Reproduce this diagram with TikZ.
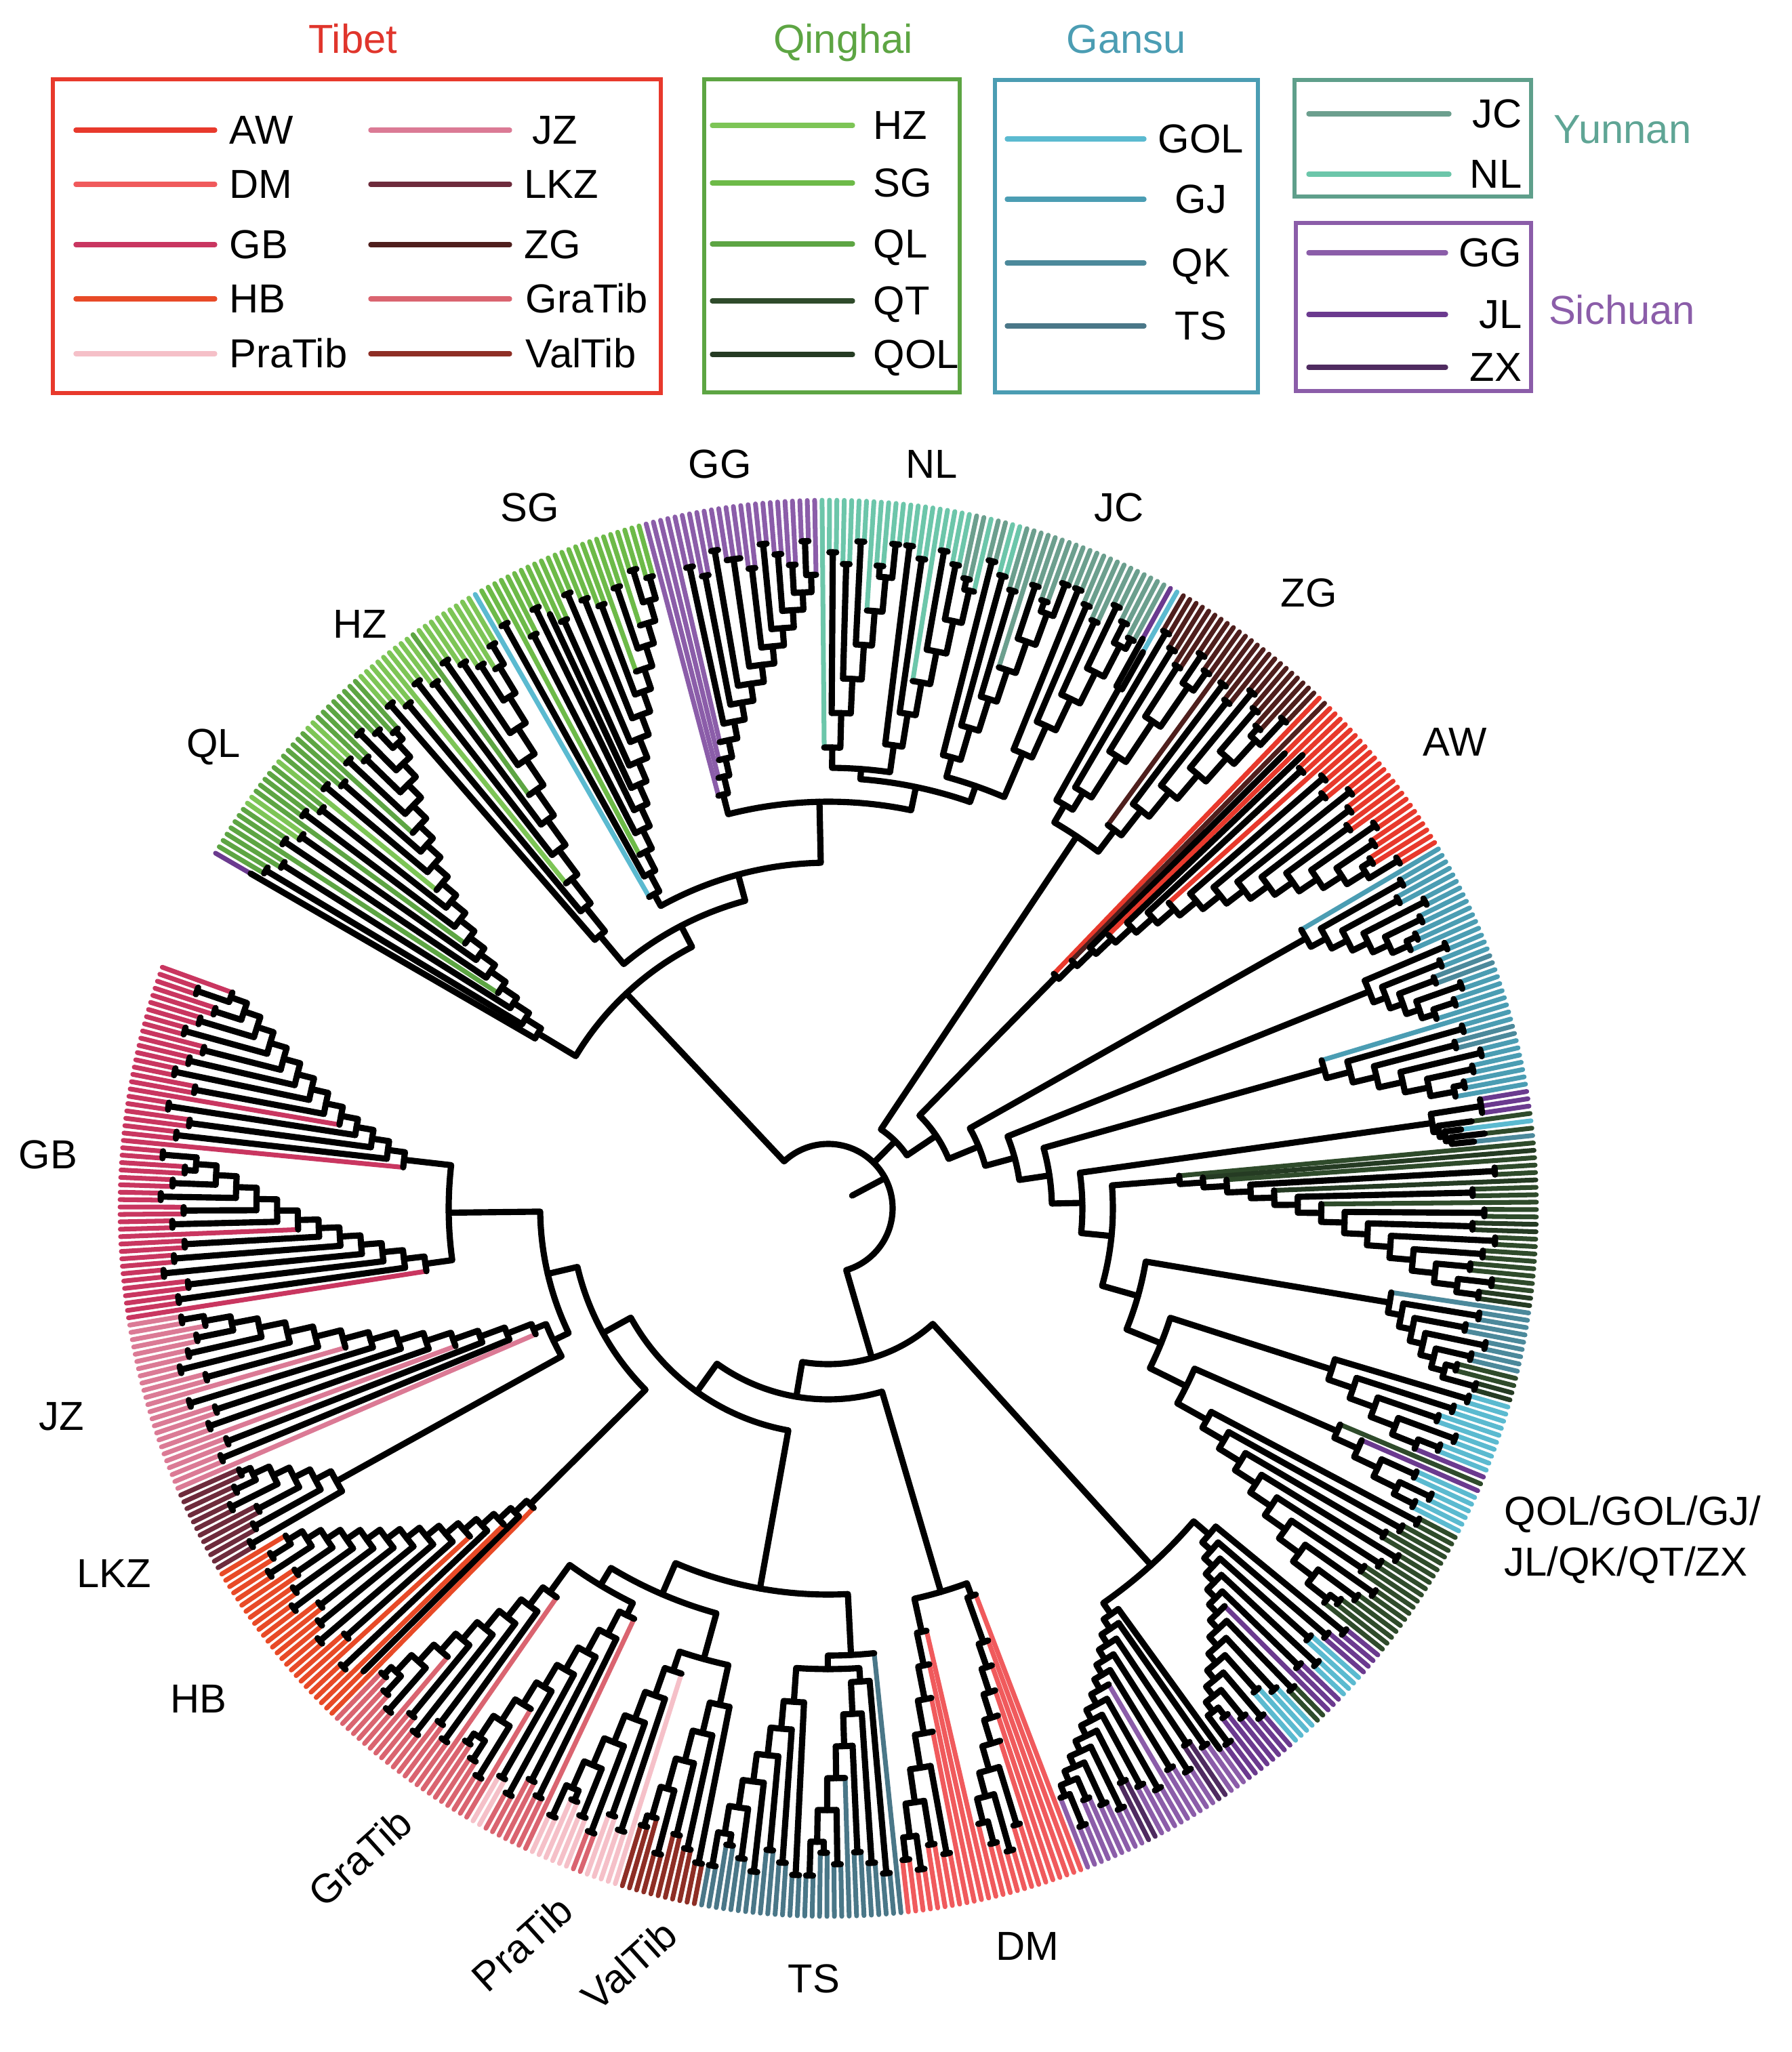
\documentclass[tikz,border=0pt]{standalone}
\usepackage{fontspec}
\setmainfont{Liberation Sans}
\definecolor{AW}{HTML}{E8392C}
\definecolor{DM}{HTML}{F05A5C}
\definecolor{GB}{HTML}{C93660}
\definecolor{HB}{HTML}{E84A27}
\definecolor{PraTib}{HTML}{F5C0C8}
\definecolor{JZ}{HTML}{DB7A95}
\definecolor{LKZ}{HTML}{6E2B3C}
\definecolor{ZG}{HTML}{4F1F1D}
\definecolor{GraTib}{HTML}{DA6470}
\definecolor{ValTib}{HTML}{8E2E25}
\definecolor{HZ}{HTML}{7DC556}
\definecolor{SG}{HTML}{6DBA48}
\definecolor{QL}{HTML}{5DA543}
\definecolor{QT}{HTML}{2F4B2B}
\definecolor{QOL}{HTML}{253B23}
\definecolor{GOL}{HTML}{5BBAD0}
\definecolor{GJ}{HTML}{4B9DB3}
\definecolor{QK}{HTML}{4C899B}
\definecolor{TS}{HTML}{4A7788}
\definecolor{JC}{HTML}{6C9F8E}
\definecolor{NL}{HTML}{6CC6AA}
\definecolor{GG}{HTML}{8B5DA9}
\definecolor{JL}{HTML}{6B3A8F}
\definecolor{ZX}{HTML}{4F2B60}
\definecolor{tibT}{HTML}{E0352C}
\definecolor{qinT}{HTML}{5DA543}
\definecolor{ganT}{HTML}{4B9DB3}
\definecolor{yunT}{HTML}{5FA595}
\definecolor{sicT}{HTML}{8B5DA9}
\definecolor{yunB}{HTML}{5F9F8B}
\tikzset{
  blk/.style={line width=2.6pt, black, line cap=round, line join=round},
  leaf/.style={line width=2.0pt, line cap=round},
  lg/.style={line width=2.1pt, line cap=round},
  lab/.style={font=\fontsize{17}{20}\selectfont, inner sep=0pt},
  frame/.style={line width=1.5pt},
}
\def\AZ{149.9}\def\DS{0.6}\def\RT{10.45}
% ladder: #1 name, #2 first leaf index, #3 groups size/colour, #4 root radius, #5 group radius, #6 default colour
\newcommand\ladder[6]{%
  \colorlet{d}{#6}%
  \xdef\LG{0}\xdef\LI{#2}%
  \foreach \gs/\gc in {#3}{%
    \pgfmathtruncatemacro\gn{max(\gs,1)}%
    \pgfmathsetmacro\af{\AZ-\DS*\LI}%
    \pgfmathsetmacro\al{\AZ-\DS*(\LI+\gn-1)}%
    \pgfmathsetmacro\am{(\af+\al)/2}%
    \expandafter\xdef\csname GA\LG\endcsname{\am}%
    \expandafter\xdef\csname GF\LG\endcsname{\af}%
    \expandafter\xdef\csname GL\LG\endcsname{\al}%
    \expandafter\xdef\csname GS\LG\endcsname{\gs}%
    \expandafter\xdef\csname GN\LG\endcsname{\gn}%
    \expandafter\xdef\csname GC\LG\endcsname{\gc}%
    \pgfmathtruncatemacro\tmpn{\LI+\gn}\xdef\LI{\tmpn}%
    \pgfmathtruncatemacro\tmpn{\LG+1}\xdef\LG{\tmpn}%
  }%
  \pgfmathtruncatemacro\Gm{\LG-2}%
  \pgfmathtruncatemacro\Glast{\LG-1}%
  \pgfmathtruncatemacro\Dd{max(\LG-2,1)}%
  \pgfmathsetmacro\rmx{#5-0.5}%
  \foreach \kq in {0,...,\Glast}{%
    \edef\Lgs{\csname GS\kq\endcsname}%
    \edef\Lgn{\csname GN\kq\endcsname}%
    \edef\Lgf{\csname GF\kq\endcsname}%
    \edef\Lgl{\csname GL\kq\endcsname}%
    \edef\Lga{\csname GA\kq\endcsname}%
    \edef\Lgc{\csname GC\kq\endcsname}%
    \ifnum\LG=1\relax
      \def\Lar{#4}\def\Lgr{#4}%
    \else
      \pgfmathtruncatemacro\kk{min(\kq,\Gm)}%
      \pgfmathsetmacro\Lar{#4+(\rmx-#4)*\kk/\Dd}%
      \pgfmathsetmacro\Lgr{#5-0.17*mod(\kq,3)}%
    \fi
    \ifnum\Lgs=1\relax \let\Lls\Lar \else \let\Lls\Lgr \fi
    \foreach \jq in {1,...,\Lgn}{%
      \pgfmathsetmacro\Lth{\Lgf-\DS*(\jq-1)}%
      \draw[leaf,color=\Lgc] (\Lth:\Lls) -- (\Lth:\RT);
    }%
    \ifnum\Lgs=1\relax\else
      \draw[blk] (\Lga:\Lar) -- (\Lga:\Lgr);
      \ifnum\Lgn>1\relax
        \draw[blk] (\Lgf:\Lgr) arc[start angle=\Lgf, end angle=\Lgl, radius=\Lgr];
      \fi
    \fi
  }%
  \ifnum\LG>1\relax
    \xdef\Bb{\csname GA\Glast\endcsname}%
    \foreach \iq in {0,...,\Gm}{%
      \pgfmathtruncatemacro\kq{\Gm-\iq}%
      \pgfmathtruncatemacro\kn{\kq+1}%
      \pgfmathsetmacro\rk{#4+(\rmx-#4)*\kq/\Dd}%
      \edef\ak{\csname GA\kq\endcsname}%
      \ifnum\kn<\Glast\relax
        \pgfmathsetmacro\rkn{#4+(\rmx-#4)*\kn/\Dd}%
        \draw[blk] (\Bb:\rkn) -- (\Bb:\rk) arc[start angle=\Bb, end angle=\ak, radius=\rk];
      \else
        \draw[blk] (\Bb:\rk) arc[start angle=\Bb, end angle=\ak, radius=\rk];
      \fi
      \pgfmathsetmacro\bn{(\ak+\Bb)/2}%
      \xdef\Bb{\bn}%
    }%
    \expandafter\xdef\csname nd:#1:A\endcsname{\Bb}%
  \else
    \expandafter\xdef\csname nd:#1:A\endcsname{\csname GA0\endcsname}%
  \fi
  \expandafter\xdef\csname nd:#1:R\endcsname{#4}%
}
% join: #1 name, #2 #3 children, #4 radius
\newcommand\jn[4]{%
  \edef\ja{\csname nd:#2:A\endcsname}\edef\jb{\csname nd:#3:A\endcsname}%
  \edef\jra{\csname nd:#2:R\endcsname}\edef\jrb{\csname nd:#3:R\endcsname}%
  \draw[blk] (\ja:\jra) -- (\ja:#4) arc[start angle=\ja, end angle=\jb, radius=#4] -- (\jb:\jrb);
  \pgfmathsetmacro\jm{(\ja+\jb)/2}%
  \expandafter\xdef\csname nd:#1:A\endcsname{\jm}%
  \expandafter\xdef\csname nd:#1:R\endcsname{#4}%
}
\begin{document}
\begin{tikzpicture}
\useasboundingbox (-12.22,-12.45) rectangle (14.21,17.83);
\fill[white] (-12.22,-12.45) rectangle (14.21,17.83);

% ---------- upper-left clade ----------
\ladder{QL}{0}{0/JL,2/d,2/d,1/d,2/d,2/HZ,1/d,2/d,2/d,1/HZ,2/d,2/d,1/d,2/HZ,2/d,2/d,2/d,2/d}{5.0}{9.85}{QL}
\ladder{HZ}{31}{2/d,2/d,1/d,2/d,2/d,1/QL,2/d,2/d,2/d,1/d,2/d}{5.25}{9.85}{HZ}
\ladder{BL}{50}{1/d}{5.3}{9.8}{GOL}
\ladder{SG}{51}{2/d,1/d,2/d,2/d,0/d,2/d,2/d,2/d,2/d,1/d,2/d,1/d,2/d,2/d}{5.6}{9.85}{SG}
\ladder{GG}{75}{1/d,1/d,1/d,1/d,2/d,2/d,2/d,3/d,2/d,2/d,2/d,2/d,2/d,1/d}{6.3}{9.85}{GG}
\ladder{NLa}{99}{1/d,2/d,2/d,2/d,1/d,2/d,2/d}{6.8}{9.85}{NL}
\ladder{NLb}{111}{2/d,2/d,1/d,2/d,2/d,2/JC,1/d}{6.9}{9.85}{NL}
\ladder{JCa}{123}{2/d,2/NL,2/d,1/d,2/d,2/d,2/d}{6.9}{9.85}{JC}
\ladder{JCb}{136}{2/d,2/d,2/d,2/d,2/d,2/d}{7.3}{9.85}{JC}
\jn{NLn}{NLa}{NLb}{6.5}
\jn{JCn}{JCa}{JCb}{6.6}
\jn{NJ}{NLn}{JCn}{6.35}
\jn{GN}{GG}{NJ}{6.0}
\jn{SGn}{BL}{SG}{5.3}
\jn{X}{SGn}{GN}{5.1}
\jn{UL1}{HZ}{X}{4.7}
\jn{UL0}{QL}{UL1}{4.35}

% ---------- upper-right clade ----------
\ladder{PB}{148}{0/JL,0/GOL}{8.8}{9.6}{JL}
\ladder{ZGa1}{150}{2/d,2/d,2/d,2/d,2/d}{7.2}{9.85}{ZG}
\ladder{ZGb}{160}{1/d,2/d,2/d,2/d,2/d,2/d,2/d}{7.0}{9.85}{ZG}
\jn{ZGa}{PB}{ZGa1}{6.9}
\jn{ZGc}{ZGa}{ZGb}{6.6}
\ladder{AW}{173}{1/d,1/ZG,0/d,1/d,0/d,2/d,1/d,2/d,2/d,2/d,2/d,2/d,2/d,2/d,2/d,2/d}{4.8}{9.85}{AW}
\ladder{GJa}{199}{1/d,2/d,2/d,2/d,2/d,2/d,1/d}{8.1}{9.9}{GJ}
\ladder{GJb}{211}{2/d,2/d,2/QK,2/d,2/d,1/d}{8.6}{9.9}{GJ}
\ladder{GJc}{222}{1/d,2/d,2/QK,2/d,2/d,2/d,1/d}{7.6}{9.9}{GJ}
\ladder{PMx}{234}{3/JL,0/QT,0/GOL,0/QT,0/QK}{9.0}{9.75}{JL}
\ladder{QTc}{241}{1/d,1/QOL,1/d,2/d,1/QOL,2/d,1/d,2/d,2/QOL,2/d,2/d,2/d,2/d,2/QOL}{5.2}{9.85}{QT}
\ladder{QKc}{264}{1/d,2/d,2/d,2/d,2/d,2/QT,2/QOL}{8.4}{9.9}{QK}
\ladder{GOLc}{277}{2/d,2/d,2/d,2/d,2/d,1/JL}{7.8}{9.85}{GOL}
\ladder{MXc}{288}{1/QT,1/JL,2/d,2/d,2/d}{8.2}{9.85}{GOL}
\ladder{DKc}{296}{2/d,2/d,2/d,2/d,2/d,2/d,2/d,2/d,2/d,1/d}{6.4}{9.85}{QT}
\jn{R8}{MXc}{DKc}{5.9}
\jn{R7}{GOLc}{R8}{5.3}
\jn{R6}{QKc}{R7}{4.75}
\jn{R5}{QTc}{R6}{4.2}
\jn{R4}{PMx}{R5}{3.75}
\jn{R3}{GJc}{R4}{3.3}
\jn{R2}{GJb}{R3}{2.85}
\jn{RL}{GJa}{R2}{2.4}
\jn{UR2}{AW}{RL}{1.92}
\jn{UR1}{ZGc}{UR2}{1.4}

% ---------- bottom clade ----------
\ladder{PURa}{315}{2/d,2/d,2/GOL,2/GOL,2/d,1/d,2/QT,2/GOL,2/GOL,2/d,2/d,2/d,2/d}{7.4}{9.85}{JL}
\ladder{PURb}{340}{0/d,2/d,2/ZX,2/d,2/d,1/d,2/d,2/d,2/ZX,2/d,2/d,2/d,2/d,1/d}{7.3}{9.85}{GG}
\jn{PURc}{PURa}{PURb}{7.1}
\ladder{DMs}{365}{1/d}{6.1}{9.8}{DM}
\ladder{DMa}{366}{1/d,1/d,1/d,1/d,1/d,2/d,2/d,2/d,1/d}{6.8}{9.85}{DM}
\ladder{DMb}{378}{1/d,1/d,1/d,1/d,2/d,2/d,2/d,2/d}{6.4}{9.85}{DM}
\jn{DMx}{DMs}{DMa}{6.1}
\jn{DMc}{DMx}{DMb}{5.9}
\ladder{TSs}{390}{1/d}{6.6}{9.8}{TS}
\ladder{TSa}{391}{2/d,2/d,2/d,1/d,2/d,2/d,2/d}{7.0}{9.85}{TS}
\ladder{TSb}{404}{2/d,2/d,2/d,2/d,2/d,2/d,2/d}{7.3}{9.85}{TS}
\jn{TSab}{TSa}{TSb}{6.8}
\jn{TSc}{TSs}{TSab}{6.6}
\ladder{VT}{418}{2/d,2/d,2/d,2/d,1/d,2/d}{7.5}{9.85}{ValTib}
\ladder{PT}{429}{1/d,2/d,2/d,2/GraTib,2/d,2/d,2/d}{7.2}{9.85}{PraTib}
\jn{PV}{VT}{PT}{6.9}
\ladder{GTa}{442}{1/d,2/d,2/d,2/d,2/PraTib,1/d,2/d,2/d,2/d}{6.7}{9.85}{GraTib}
\ladder{GTb}{458}{1/d,2/d,2/d,2/d,2/d,1/d,2/d,2/d,2/d}{7.0}{9.85}{GraTib}
\jn{GT}{GTa}{GTb}{6.5}
\jn{GPV}{PV}{GT}{6.2}
\jn{TSn}{GPV}{TSc}{5.7}
\ladder{HB}{474}{1/d,0/d,1/d,2/d,1/d,2/d,2/d,2/d,2/d,2/d,2/d,2/d,2/d,2/d,1/d}{6.2}{9.85}{HB}
\ladder{LKZ}{499}{2/d,2/d,2/d,2/d,2/d,2/d}{8.3}{9.85}{LKZ}
\ladder{JZ}{511}{1/d,2/d,2/d,1/d,2/d,2/d,2/d,1/d,2/d,2/d,2/d,2/d,1/d,2/d}{4.7}{9.85}{JZ}
\ladder{GBa}{535}{1/d,2/d,2/d,2/d,2/d,2/d,1/d,2/d,2/d,2/d,2/d,2/d,2/d}{6.0}{9.85}{GB}
\ladder{GBb}{559}{1/d,2/d,2/d,2/d,1/d,2/d,2/d,2/d,2/d,2/d,2/d,2/d,2/d,1/d}{6.3}{9.85}{GB}
\jn{GBc}{GBa}{GBb}{5.6}
\jn{JZL}{LKZ}{JZ}{4.5}
\jn{GJZ}{JZL}{GBc}{4.25}
\jn{LEFT0}{HB}{GJZ}{3.8}
\jn{L1}{LEFT0}{TSn}{3.33}
\jn{BOT1}{L1}{DMc}{2.82}
\jn{BOT0}{BOT1}{PURc}{2.3}

% ---------- root ----------
\edef\ra{\csname nd:UL0:A\endcsname}\edef\rra{\csname nd:UL0:R\endcsname}
\edef\rb{\csname nd:BOT0:A\endcsname}\edef\rrb{\csname nd:BOT0:R\endcsname}
\edef\rc{\csname nd:UR1:A\endcsname}\edef\rrc{\csname nd:UR1:R\endcsname}
\draw[blk] (\ra:\rra) -- (\ra:0.95) arc[start angle=\ra, end angle=\rb, radius=0.95] -- (\rb:\rrb);
\draw[blk] (\rc:0.95) -- (\rc:\rrc);
\coordinate (rootin) at (28:0.4);
\coordinate (rootout) at (28:0.95);
\draw[blk] (rootin) -- (rootout);

% ---------- tree labels ----------
\node[lab, anchor=base] (tGG) at (-1.60,10.77) {GG};
\node[lab, anchor=base] (tNL) at (1.53,10.77) {NL};
\node[lab, anchor=base] (tSG) at (-4.40,10.13) {SG};
\node[lab, anchor=base] (tJC) at (4.29,10.13) {JC};
\node[lab, anchor=base] (tHZ) at (-6.91,8.41) {HZ};
\node[lab, anchor=base] (tZG) at (7.09,8.87) {ZG};
\node[lab, anchor=base] (tQL) at (-9.07,6.65) {QL};
\node[lab, anchor=base] (tAW) at (9.25,6.67) {AW};
\node[lab, anchor=base] (tGB) at (-11.51,0.59) {GB};
\node[lab, anchor=base] (tJZ) at (-11.31,-3.27) {JZ};
\node[lab, anchor=base] (tLKZ) at (-10.54,-5.59) {LKZ};
\node[lab, anchor=base] (tHB) at (-9.29,-7.44) {HB};
\node[lab, anchor=base] (tTS) at (-0.21,-11.57) {TS};
\node[lab, anchor=base] (tDM) at (2.94,-11.09) {DM};
\node[lab, rotate=42] (tGra) at (-6.91,-9.58) {GraTib};
\node[lab, rotate=42] (tPra) at (-4.52,-10.85) {PraTib};
\node[lab, rotate=42] (tVal) at (-2.94,-11.17) {ValTib};
\node[lab, anchor=base west] (tMix1) at (9.97,-4.67) {QOL/GOL/GJ/};
\node[lab, anchor=base west] (tMix2) at (9.97,-5.42) {JL/QK/QT/ZX};

% ---------- legend ----------
\node[lab, anchor=base, text=tibT] (hTib) at (-7.01,17.04) {Tibet};
\draw[frame, AW] (-11.44,12.03) rectangle (-2.47,16.66);
\foreach \yy/\cc/\tx in {15.91/AW/AW, 15.11/DM/DM, 14.22/GB/GB, 13.42/HB/HB, 12.61/PraTib/PraTib}{
  \draw[lg, \cc] (-11.10,\yy) -- (-9.05,\yy);
  \node[lab, anchor=base west] at (-8.84,\yy-0.21) {\tx};
}
\foreach \yy/\cc/\tx/\xx in {15.91/JZ/JZ/-4.37, 15.11/LKZ/LKZ/-4.49, 14.22/ZG/ZG/-4.49, 13.42/GraTib/GraTib/-4.47, 12.61/ValTib/ValTib/-4.47}{
  \draw[lg, \cc] (-6.75,\yy) -- (-4.70,\yy);
  \node[lab, anchor=base west] at (\xx,\yy-0.21) {\tx};
}
\node[lab, anchor=base, text=qinT] (hQin) at (0.22,17.04) {Qinghai};
\draw[frame, QL] (-1.83,12.04) rectangle (1.94,16.66);
\foreach \yy/\cc/\tx in {15.98/HZ/HZ, 15.13/SG/SG, 14.23/QL/QL, 13.39/QT/QT, 12.60/QOL/QOL}{
  \draw[lg, \cc] (-1.71,\yy) -- (0.36,\yy);
  \node[lab, anchor=base west] at (0.66,\yy-0.21) {\tx};
}
\node[lab, anchor=base, text=ganT] (hGan) at (4.40,17.04) {Gansu};
\draw[frame, GJ] (2.46,12.04) rectangle (6.34,16.65);
\foreach \yy/\cc/\tx in {15.78/GOL/GOL, 14.89/GJ/GJ, 13.95/QK/QK, 13.02/TS/TS}{
  \draw[lg, \cc] (2.64,\yy) -- (4.66,\yy);
  \node[lab, anchor=base] at (5.50,\yy-0.21) {\tx};
}
\draw[frame, yunB] (6.88,14.93) rectangle (10.37,16.65);
\foreach \yy/\cc/\tx in {16.15/JC/JC, 15.26/NL/NL}{
  \draw[lg, \cc] (7.09,\yy) -- (9.16,\yy);
  \node[lab, anchor=base east] at (10.24,\yy-0.21) {\tx};
}
\node[lab, anchor=base, text=yunT] (hYun) at (11.72,15.71) {Yunnan};
\draw[frame, GG] (6.90,12.06) rectangle (10.37,14.54);
\foreach \yy/\cc/\tx in {14.10/GG/GG, 13.19/JL/JL, 12.41/ZX/ZX}{
  \draw[lg, \cc] (7.09,\yy) -- (9.11,\yy);
  \node[lab, anchor=base east] at (10.24,\yy-0.21) {\tx};
}
\node[lab, anchor=base, text=sicT] (hSic) at (11.71,13.04) {Sichuan};
\end{tikzpicture}
\end{document}
